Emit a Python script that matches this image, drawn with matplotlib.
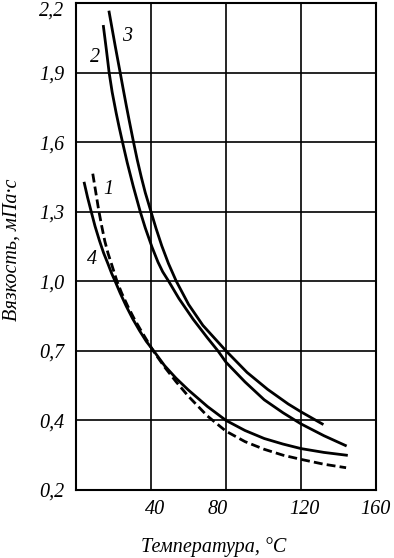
import numpy as np
import matplotlib
matplotlib.use('Agg')
import matplotlib.pyplot as plt
import matplotlib.transforms as mtransforms

plt.rcParams['font.family'] = ['Liberation Serif', 'DejaVu Serif']
plt.rcParams['font.style'] = 'italic'
plt.rcParams['font.size'] = 14.5

# curve data: temperature, C / viscosity, mPa*s
t1 = [8.94, 10.55, 12.16, 13.76, 15.37, 17.14, 19.12, 21.85, 24.36, 27.58, 31.06, 34.70, 38.13, 41.17,
      47.26, 53.35, 59.95, 70.10, 80, 90.14, 100.38, 110.41, 120, 132.24, 144.05]
v1 = [1.464, 1.384, 1.304, 1.236, 1.173, 1.119, 1.070, 1.000, 0.949, 0.893, 0.838, 0.787, 0.741, 0.700,
      0.630, 0.567, 0.504, 0.419, 0.369, 0.339, 0.317, 0.300, 0.288, 0.274, 0.264]

t2 = [14.62, 16.22, 17.67, 19.28, 21.42, 23.03, 24.80, 27.31, 30.52, 34.27, 36.95, 40.51, 43.71, 46.24,
      49.44, 54.87, 62.49, 70.10, 75.69, 80, 90.14, 100.38, 110.41, 120, 132.24, 143.67]
v2 = [2.099, 1.997, 1.900, 1.816, 1.726, 1.664, 1.600, 1.512, 1.410, 1.300, 1.230, 1.148, 1.083, 1.041,
      1.000, 0.926, 0.836, 0.756, 0.700, 0.651, 0.566, 0.489, 0.433, 0.390, 0.356, 0.328]

t3 = [17.67, 19.28, 20.88, 22.49, 23.56, 25.17, 26.77, 28.38, 30.68, 32.66, 34.80, 36.95, 40, 42.69,
      45.74, 49.29, 53.50, 60.05, 67.66, 80, 91.23, 102.19, 113.15, 120, 131.32]
v3 = [2.161, 2.088, 2.016, 1.946, 1.900, 1.829, 1.760, 1.693, 1.600, 1.524, 1.450, 1.382, 1.300, 1.228,
      1.153, 1.077, 1.000, 0.900, 0.810, 0.700, 0.607, 0.534, 0.471, 0.437, 0.390]

t4 = [4.44, 6.16, 8.03, 10.17, 12.48, 14.73, 16.97, 19.01, 20.88, 23.56, 26.77, 30.25, 33.89, 37.48,
      41.42, 47.26, 53.35, 59.95, 70.10, 80, 90.14, 100.38, 110.41, 120, 132.24, 144.22]
v4 = [1.423, 1.362, 1.303, 1.237, 1.176, 1.122, 1.077, 1.034, 1.000, 0.949, 0.893, 0.838, 0.787, 0.741,
      0.700, 0.636, 0.582, 0.531, 0.460, 0.400, 0.371, 0.348, 0.332, 0.319, 0.308, 0.300]

xticks = [40, 80, 120, 160]
yticks = [0.2, 0.4, 0.7, 1.0, 1.3, 1.6, 1.9, 2.2]
ytick_labels = ['0,2', '0,4', '0,7', '1,0', '1,3', '1,6', '1,9', '2,2']

curve_names = ['1', '2', '3', '4']
name_pos = [(17.1, 1.394), (10.2, 1.963), (27.5, 2.054), (8.6, 1.094)]


# the y axis has equal spacing per tick, the lowest step is only 0.2
def fwd(v):
    v = np.asarray(v, dtype=float)
    return np.where(v >= 0.4, (v - 0.4) / 0.3, (v - 0.4) / 0.2)


def inv(p):
    p = np.asarray(p, dtype=float)
    return np.where(p >= 0, 0.4 + 0.3 * p, 0.4 + 0.2 * p)


fig = plt.figure(figsize=(3.94, 5.58), dpi=100)
ax = fig.add_axes([0.1929, 0.1219, 0.7614, 0.8727])
ax.set_yscale('function', functions=(fwd, inv))

ax.plot(t1, v1, color='black', lw=2.0, ls=(0, (3.2, 1.5)))
ax.plot(t2, v2, color='black', lw=2.0)
ax.plot(t3, v3, color='black', lw=2.0)
ax.plot(t4, v4, color='black', lw=2.0)

for name, (tx, ty) in zip(curve_names, name_pos):
    ax.text(tx, ty, name, ha='center', va='center', fontsize=14.5)

ax.set_xlim(0, 160)
ax.set_ylim(0.2, 2.2)
ax.set_xticks(xticks)
ax.set_xticklabels([str(x) for x in xticks])
ax.set_yticks(yticks)
ax.set_yticklabels(ytick_labels)
ax.tick_params(length=0)
ax.tick_params(axis='y', pad=8.5)
ax.tick_params(axis='x', pad=7)

# x labels in the picture sit a little off their grid lines
shifts = [4, -8, 3, -1]
for lab, dx in zip(ax.get_xticklabels(), shifts):
    lab.set_transform(lab.get_transform() + mtransforms.ScaledTranslation(dx / 100, 0, fig.dpi_scale_trans))
# top y label pushed down so it stays inside the picture
top = ax.get_yticklabels()[-1]
top.set_transform(top.get_transform() + mtransforms.ScaledTranslation(0, -6 / 100, fig.dpi_scale_trans))

ax.grid(True, color='black', lw=1.2)
for s in ax.spines.values():
    s.set_linewidth(1.5)

ax.set_xlabel('Температура, °C', va='center')
ax.xaxis.set_label_coords(0.46, -0.117)
ax.set_ylabel('Вязкость, мПа·с', va='center')
ax.yaxis.set_label_coords(-0.212, 0.493)

fig.savefig('out.png', dpi=100)
